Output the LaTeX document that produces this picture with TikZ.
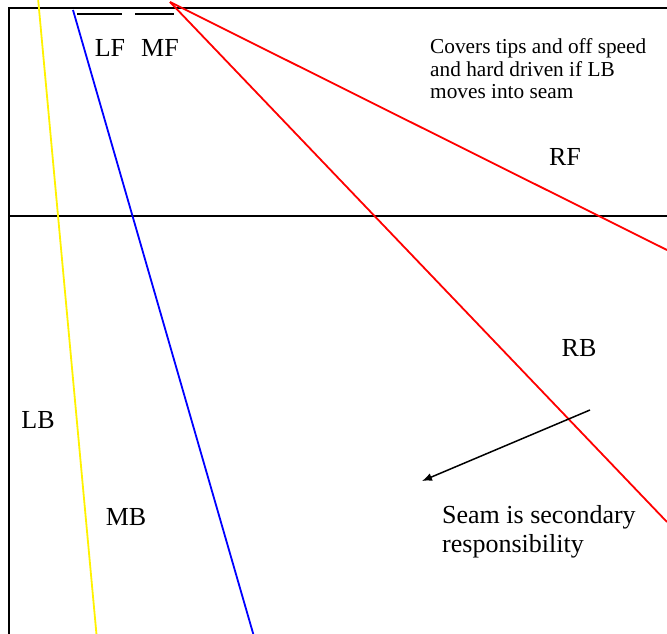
\documentclass[tikz,border=0pt]{standalone}
\usepackage{fontspec}
\setmainfont{Liberation Serif}
\newfontfamily\tnr{Liberation Serif}
\usetikzlibrary{arrows.meta}
\begin{document}
\begin{tikzpicture}[x=1pt,y=-1pt,
  big/.style={font=\tnr\fontsize{26}{29.5}\selectfont, inner sep=0pt},
  small/.style={font=\tnr\fontsize{21.3}{22.5}\selectfont, inner sep=0pt, align=left},
  frame/.style={line width=2pt, black},
  route/.style={line width=1.8pt}]
\useasboundingbox (0,0) rectangle (667,634);
\clip (0,0) rectangle (667,634);
\fill[white] (0,0) rectangle (667,634);
% coordinates
\coordinate (tl) at (9,8);
\coordinate (tr) at (680,8);
\coordinate (bl) at (9,640);
\coordinate (ml) at (9,216);
\coordinate (mr) at (680,216);
\coordinate (y1) at (38,-2);
\coordinate (y2) at (97,640);
\coordinate (b1) at (73,10);
\coordinate (b2) at (255,640);
\coordinate (apex) at (170,2);
\coordinate (r1) at (667,250);
\coordinate (r2) at (667,522);
\coordinate (d1a) at (77,14);
\coordinate (d1b) at (122,14);
\coordinate (d2a) at (135,14);
\coordinate (d2b) at (174,14);
\coordinate (as) at (590,410);
\coordinate (ae) at (422,481);
% frame
\draw[frame] (bl) -- (tl) -- (tr);
\draw[frame] (ml) -- (mr);
% routes
\draw[route, yellow] (y1) -- (y2);
\draw[route, blue] (b1) -- (b2);
\draw[route, red] (apex) -- (r1);
\draw[route, red] (apex) -- (r2);
\draw[frame] (d1a) -- (d1b);
\draw[frame] (d2a) -- (d2b);
\draw[line width=1.5pt, -{Latex[length=10pt,width=8pt]}] (as) -- (ae);
% labels
\node[big] (lf) at (110,48) {LF};
\node[big] (mf) at (160,48) {MF};
\node[big] (rf) at (565,157) {RF};
\node[big] (rb) at (579,348) {RB};
\node[big] (lb) at (38,420) {LB};
\node[big] (mb) at (126,517) {MB};
\node[small, anchor=west] (cov) at (430,69) {Covers tips and off speed\\and hard driven if LB\\moves into seam};
\node[big, align=left, anchor=west] (seam) at (442,532) {Seam is secondary\\responsibility};
\end{tikzpicture}
\end{document}
